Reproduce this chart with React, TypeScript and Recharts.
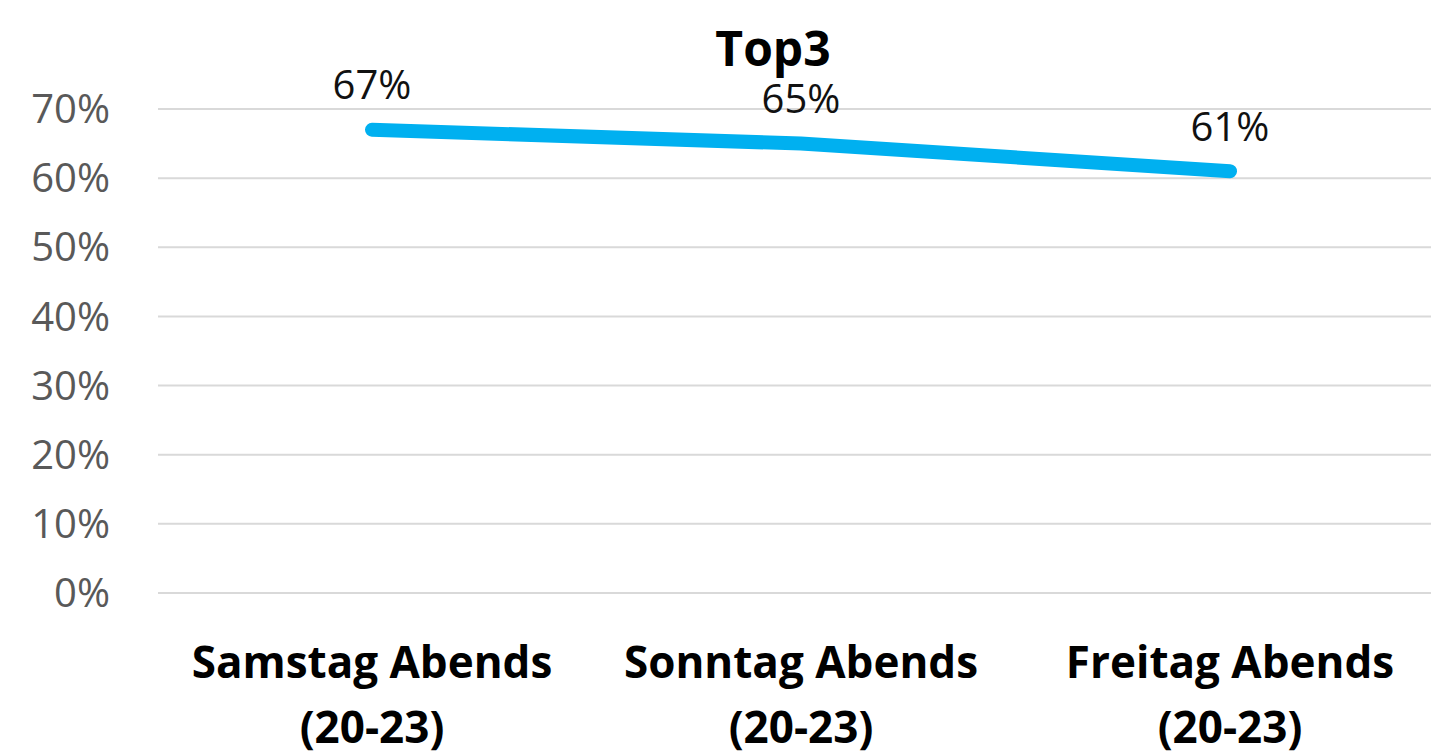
import { LineChart, Line, XAxis, YAxis, CartesianGrid, LabelList } from "recharts";

const categories = ["Samstag Abends (20-23)", "Sonntag Abends (20-23)", "Freitag Abends (20-23)"];
const values = [0.67, 0.65, 0.61];
const yTicks = [0, 0.1, 0.2, 0.3, 0.4, 0.5, 0.6, 0.7];

const data = categories.map((name, i) => ({ name, value: values[i] }));

const pct = (v: number) => `${Math.round(v * 100)}%`;

function CategoryTick(props: any) {
  const { x, y, payload } = props;
  const text: string = payload.value;
  const cut = text.indexOf(" (");
  const lines = cut > 0 ? [text.slice(0, cut), text.slice(cut + 1)] : [text];
  return (
    <g transform={`translate(${x},${y})`}>
      {lines.map((l, i) => (
        <text
          key={i}
          x={0}
          y={60 + i * 65}
          textAnchor="middle"
          dominantBaseline="central"
          fontFamily="'Open Sans', sans-serif"
          fontWeight={700}
          fontSize={44}
          fill="#000"
        >
          {l}
        </text>
      ))}
    </g>
  );
}

function ValueLabel(props: any) {
  const { x, y, value } = props;
  return (
    <text
      x={x}
      y={y - 46}
      textAnchor="middle"
      dominantBaseline="central"
      fontFamily="'Open Sans', sans-serif"
      fontSize={40}
      fill="#111"
    >
      {pct(value)}
    </text>
  );
}

export default function App() {
  return (
    <div style={{ position: "absolute", left: 0, top: 0, width: 1431, height: 751, background: "#fff" }}>
      <LineChart
        width={1431}
        height={751}
        data={data}
        margin={{ top: 109, right: 0, left: 0, bottom: 0 }}
      >
        <text
          x={773}
          y={47}
          textAnchor="middle"
          dominantBaseline="central"
          fontFamily="'Open Sans', sans-serif"
          fontWeight={700}
          fontSize={48}
          fill="#000"
        >
          Top3
        </text>
        <CartesianGrid vertical={false} stroke="#d9d9d9" strokeWidth={2} />
        <XAxis
          dataKey="name"
          axisLine={false}
          tickLine={false}
          height={158}
          interval={0}
          padding={{ left: 214, right: 201 }}
          tick={<CategoryTick />}
        />
        <YAxis
          domain={[0, 0.7]}
          ticks={yTicks}
          tickFormatter={pct}
          axisLine={false}
          tickLine={false}
          width={158}
          tickSize={0}
          tickMargin={48}
          tick={{ fill: "#595959", fontSize: 40, fontFamily: "'Open Sans', sans-serif" }}
        />
        <Line
          type="linear"
          dataKey="value"
          stroke="#00B0F0"
          strokeWidth={14}
          strokeLinecap="round"
          dot={false}
          isAnimationActive={false}
        >
          <LabelList dataKey="value" content={<ValueLabel />} />
        </Line>
      </LineChart>
    </div>
  );
}
